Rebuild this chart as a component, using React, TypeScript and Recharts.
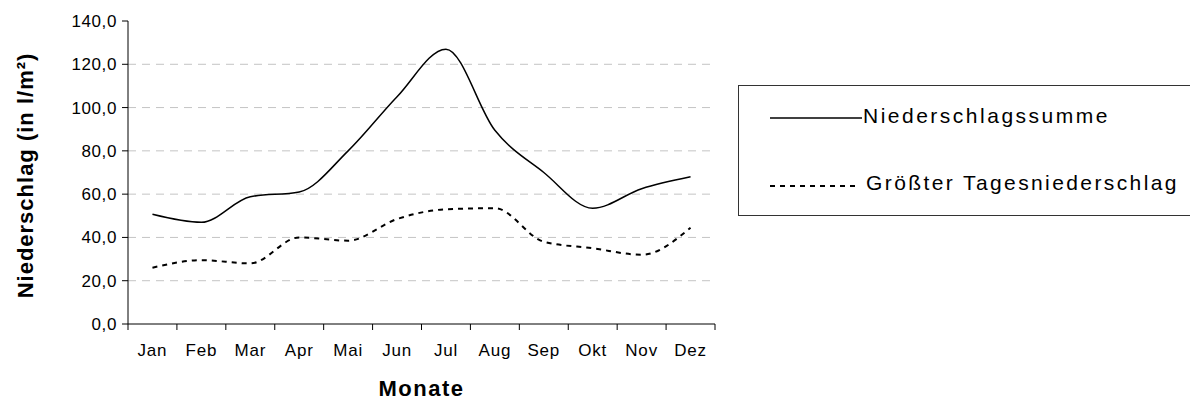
import { LineChart, Line, XAxis, YAxis, CartesianGrid, Legend, Label } from 'recharts'

const months = ['Jan', 'Feb', 'Mar', 'Apr', 'Mai', 'Jun', 'Jul', 'Aug', 'Sep', 'Okt', 'Nov', 'Dez']
const niederschlagssumme = [50.7, 47, 58.8, 61, 80, 105, 127, 89.5, 70, 53.5, 62.5, 68]
const groessterTages = [26, 29.5, 28, 40, 38.5, 48.5, 53, 53.5, 38, 35, 32, 44.5]
const yTicks = [0, 20, 40, 60, 80, 100, 120, 140]
const gridValues = [20, 40, 60, 80, 100, 120]

const seriesNames = ['Niederschlagssumme', 'Größter Tagesniederschlag']

const data = months.map((m, i) => ({
  month: m,
  summe: niederschlagssumme[i],
  groesster: groessterTages[i],
}))

const FONT = '"Liberation Sans", Arial, sans-serif'
const TICK_SIZE = 6
const TICK_MARGIN = 2
const DASH = '5 5'

const fmt = (v: number) => v.toFixed(1).replace('.', ',')

function MonthTick(props: any) {
  const { x, y, payload, index } = props
  const half = payload?.offset || 587 / months.length / 2
  const axisY = y - TICK_SIZE - TICK_MARGIN
  const last = index === months.length - 1
  return (
    <g>
      <line x1={x - half} x2={x - half} y1={axisY} y2={axisY + TICK_SIZE} stroke="#000" />
      {last && <line x1={x + half} x2={x + half} y1={axisY} y2={axisY + TICK_SIZE} stroke="#000" />}
      <text x={x} y={axisY + 32} textAnchor="middle" fontSize={17} letterSpacing={0.8} fill="#000">
        {payload.value}
      </text>
    </g>
  )
}

function LegendBox() {
  return (
    <div
      style={{
        width: 460,
        height: 131,
        boxSizing: 'border-box',
        border: '1px solid #333',
        background: '#fff',
      }}
    >
      <svg width={458} height={129}>
        <line x1={31} x2={123} y1={32} y2={32} stroke="#000" strokeWidth={1.5} />
        <text x={124} y={37} fontSize={21} letterSpacing={2.5} fill="#000">
          {seriesNames[0]}
        </text>
        <line x1={31} x2={121} y1={100} y2={100} stroke="#000" strokeWidth={2} strokeDasharray={DASH} />
        <text x={127} y={104} fontSize={21} letterSpacing={2.4} fill="#000">
          {seriesNames[1]}
        </text>
      </svg>
    </div>
  )
}

export default function App() {
  return (
    <div
      style={{
        position: 'absolute',
        left: 0,
        top: 0,
        width: 1190,
        height: 400,
        overflow: 'hidden',
        background: '#fff',
        fontFamily: FONT,
      }}
    >
      <LineChart width={1190} height={400} data={data} margin={{ top: 21, right: 475, bottom: 36, left: 28 }}>
        <CartesianGrid
          vertical={false}
          horizontalValues={gridValues}
          stroke="#c4c4c4"
          strokeDasharray="8 6"
        />
        <XAxis
          dataKey="month"
          scale="band"
          height={40}
          interval={0}
          tickLine={false}
          tickSize={TICK_SIZE}
          tickMargin={TICK_MARGIN}
          axisLine={{ stroke: '#000' }}
          tick={<MonthTick />}
        >
          <Label
            content={({ viewBox }: any) => (
              <text
                x={viewBox.x + viewBox.width / 2}
                y={viewBox.y + 72}
                textAnchor="middle"
                fontSize={22}
                fontWeight="bold"
                letterSpacing={1.5}
                fill="#000"
              >
                Monate
              </text>
            )}
          />
        </XAxis>
        <YAxis
          width={100}
          domain={[0, 140]}
          ticks={yTicks}
          interval={0}
          tickFormatter={fmt}
          tickSize={TICK_SIZE}
          tickMargin={5}
          axisLine={{ stroke: '#000' }}
          tickLine={{ stroke: '#000' }}
          tick={{ fontSize: 17, fill: '#000', letterSpacing: 0.6 }}
        >
          <Label
            content={({ viewBox }: any) => {
              const x = viewBox.x + 4.5
              const y = viewBox.y + viewBox.height / 2 + 3
              return (
                <text
                  x={x}
                  y={y}
                  transform={`rotate(-90, ${x}, ${y})`}
                  textAnchor="middle"
                  fontSize={22}
                  fontWeight="bold"
                  letterSpacing={1}
                  fill="#000"
                >
                  Niederschlag (in l/m²)
                </text>
              )
            }}
          />
        </YAxis>
        <Legend
          layout="vertical"
          align="center"
          verticalAlign="middle"
          wrapperStyle={{ left: 738, top: 85, width: 460, height: 131 }}
          content={() => <LegendBox />}
        />
        <Line
          type="monotone"
          dataKey="summe"
          name={seriesNames[0]}
          stroke="#000"
          strokeWidth={1.5}
          dot={false}
          activeDot={false}
          isAnimationActive={false}
        />
        <Line
          type="monotone"
          dataKey="groesster"
          name={seriesNames[1]}
          stroke="#000"
          strokeWidth={2}
          strokeDasharray={DASH}
          dot={false}
          activeDot={false}
          isAnimationActive={false}
        />
      </LineChart>
    </div>
  )
}
